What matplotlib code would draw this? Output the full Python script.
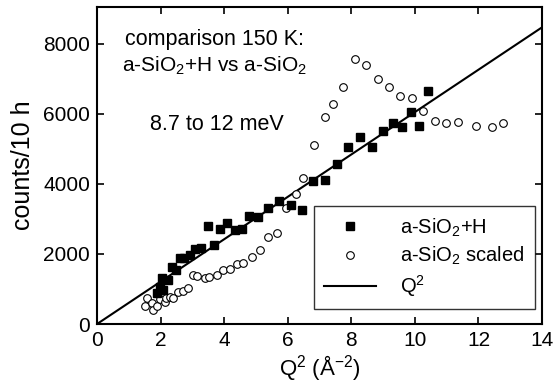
import matplotlib.pyplot as plt

plt.rcParams['font.family'] = ['Liberation Sans', 'DejaVu Sans']
plt.rcParams['mathtext.fontset'] = 'custom'
plt.rcParams['mathtext.rm'] = 'Liberation Sans'
plt.rcParams['mathtext.it'] = 'Liberation Sans:italic'
plt.rcParams['mathtext.bf'] = 'Liberation Sans:bold'

# a-SiO2+H (filled squares)
sq_q = [1.89, 1.98, 2.04, 2.08, 2.23, 2.36, 2.48, 2.61, 2.74, 2.92, 3.08, 3.27,
        3.49, 3.68, 3.87, 4.09, 4.34, 4.56, 4.78, 5.06, 5.38, 5.72, 6.10, 6.45,
        6.79, 7.17, 7.55, 7.89, 8.27, 8.65, 8.99, 9.31, 9.59, 9.87, 10.13, 10.41]
sq_c = [890, 1060, 1310, 970, 1260, 1630, 1540, 1890, 1890, 1970, 2140, 2170,
        2800, 2260, 2710, 2890, 2690, 2710, 3090, 3060, 3300, 3500, 3400, 3260,
        4090, 4110, 4570, 5060, 5340, 5060, 5510, 5740, 5630, 6060, 5660, 6660]

# a-SiO2 scaled (open circles)
ci_q = [1.51, 1.57, 1.73, 1.76, 1.89, 1.98, 2.14, 2.17, 2.30, 2.39, 2.55, 2.70,
        2.86, 3.02, 3.14, 3.40, 3.52, 3.77, 3.96, 4.18, 4.40, 4.59, 4.87, 5.13,
        5.38, 5.66, 5.96, 6.26, 6.48, 6.84, 7.17, 7.42, 7.74, 8.11, 8.46, 8.84,
        9.18, 9.53, 9.91, 10.25, 10.63, 10.97, 11.35, 11.92, 12.42, 12.77]
ci_c = [510, 740, 600, 400, 510, 710, 630, 740, 770, 740, 910, 940,
        1030, 1400, 1370, 1310, 1340, 1400, 1540, 1570, 1710, 1740, 1910, 2110,
        2490, 2600, 3300, 3710, 4170, 5120, 5910, 6290, 6770, 7570, 7400, 7000,
        6770, 6510, 6460, 6090, 5800, 5740, 5770, 5660, 5630, 5740]

# Q^2 line
line_q = [0, 14]
slope = 605

fig = plt.figure(figsize=(5.55, 3.9), dpi=100)
ax = fig.add_axes([0.1748, 0.1692, 0.8018, 0.8128])

ax.plot(line_q, [slope * q for q in line_q], color='black', lw=1.5, label='Q$^2$', zorder=2)
ax.plot(ci_q, ci_c, 'o', ms=5.5, mfc='white', mec='black', mew=0.8,
        label='a-SiO$_2$ scaled', zorder=3)
ax.plot(sq_q, sq_c, 's', ms=5.5, color='black', label='a-SiO$_2$+H', zorder=4)

ax.set_xlim(0, 14)
ax.set_ylim(0, 9050)
ax.set_xticks(range(0, 15, 2))
ax.set_yticks(range(0, 8001, 2000))
ax.tick_params(direction='in', top=True, right=True, length=5, width=1.2,
               labelsize=15, pad=5)
for s in ax.spines.values():
    s.set_linewidth(1.5)

ax.set_xlabel('Q$^2$ (Å$^{-2}$)', fontsize=16, labelpad=2)
ax.set_ylabel('counts/10 h', fontsize=18, labelpad=6)

ax.text(0.265, 0.896, 'comparison 150 K:', transform=ax.transAxes,
        ha='center', va='center', fontsize=15.5)
ax.text(0.265, 0.815, 'a-SiO$_2$+H vs a-SiO$_2$', transform=ax.transAxes,
        ha='center', va='center', fontsize=15)
ax.text(0.27, 0.628, '8.7 to 12 meV', transform=ax.transAxes,
        ha='center', va='center', fontsize=15.5)

h, l = ax.get_legend_handles_labels()
order = [2, 1, 0]
leg = ax.legend([h[i] for i in order], [l[i] for i in order],
                loc='lower right', bbox_to_anchor=(0.984, 0.047),
                fontsize=14.5, frameon=True, fancybox=False, edgecolor='black',
                handlelength=2.6, handletextpad=1.2, borderpad=0.5,
                labelspacing=0.3, borderaxespad=0)
leg.get_frame().set_linewidth(1.0)

fig.savefig('out.png', dpi=100)
